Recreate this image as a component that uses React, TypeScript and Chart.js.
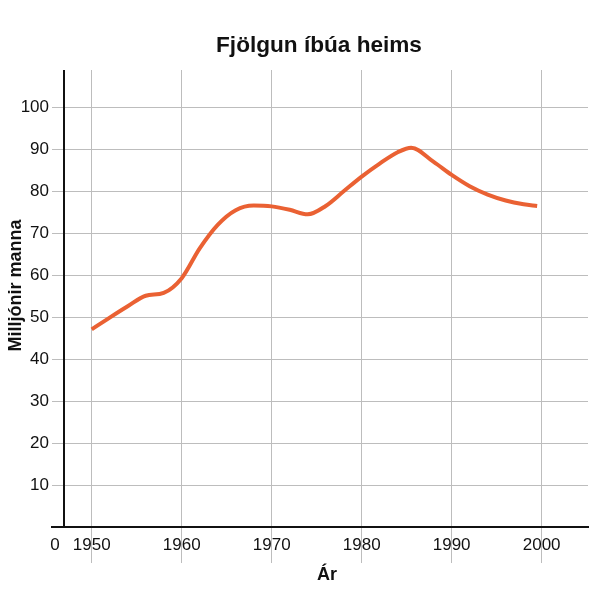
import React, { useRef, useEffect } from 'react';
import { Chart, registerables } from 'chart.js';

Chart.register(...registerables);

const FONT = "'Liberation Sans', Arial, Helvetica, sans-serif";

const chartTitle = 'Fjölgun íbúa heims';
const xTitle = 'Ár';
const yTitle = 'Milljónir manna';
const originLabel = '0';

const years = [1950, 1952, 1954, 1956, 1958, 1960, 1962, 1964, 1966, 1968, 1970, 1972, 1974, 1976, 1978, 1980, 1982, 1984, 1985.5, 1988, 1990, 1992, 1994, 1996, 1998, 1999.5];
const population = [47.1, 49.9, 52.6, 55.1, 55.8, 59.3, 66.4, 72.0, 75.5, 76.6, 76.4, 75.6, 74.5, 76.5, 80.0, 83.5, 86.6, 89.3, 90.4, 87.0, 83.9, 81.2, 79.2, 77.8, 76.9, 76.5];

const xTicks = [1950, 1960, 1970, 1980, 1990, 2000];
const yTicks = [10, 20, 30, 40, 50, 60, 70, 80, 90, 100];

// title, axis lines, axis titles and the origin "0"
const decorations = {
  id: 'decorations',
  afterDraw(chart: Chart) {
    const { ctx, chartArea } = chart;
    const { left, right, top, bottom } = chartArea;
    ctx.save();
    ctx.strokeStyle = '#111';
    ctx.lineWidth = 2;
    ctx.beginPath();
    ctx.moveTo(left, top);
    ctx.lineTo(left, bottom);
    ctx.moveTo(left - 13, bottom);
    ctx.lineTo(right + 1, bottom);
    ctx.stroke();

    ctx.fillStyle = '#111';
    ctx.textAlign = 'center';
    ctx.textBaseline = 'alphabetic';
    ctx.font = `bold 22.6px ${FONT}`;
    ctx.fillText(chartTitle, 319, 52);

    ctx.font = `bold 18px ${FONT}`;
    ctx.fillText(xTitle, (left + right) / 2 + 1, bottom + 53);

    ctx.save();
    ctx.translate(21, (top + bottom) / 2 - 13);
    ctx.rotate(-Math.PI / 2);
    ctx.fillText(yTitle, 0, 0);
    ctx.restore();

    ctx.font = `17px ${FONT}`;
    ctx.textBaseline = 'middle';
    ctx.fillText(originLabel, left - 9, bottom + 18);
    ctx.restore();
  },
};

const App = () => {
  const chartRef = useRef<HTMLCanvasElement>(null);

  useEffect(() => {
    const ctx = chartRef.current?.getContext('2d');
    if (!ctx) return;

    const myChart = new Chart(ctx, {
      type: 'line',
      data: {
        datasets: [
          {
            data: years.map((y, i) => ({ x: y, y: population[i] })),
            borderColor: '#EA6133',
            borderWidth: 4,
            pointRadius: 0,
            cubicInterpolationMode: 'monotone',
            fill: false,
          },
        ],
      },
      options: {
        responsive: true,
        maintainAspectRatio: false,
        animation: false,
        layout: { padding: { top: 70, right: 1, left: 0, bottom: 0 } },
        scales: {
          x: {
            type: 'linear',
            min: 1946.92,
            max: 2005.15,
            afterBuildTicks: (scale: any) => {
              scale.ticks = xTicks.map((v) => ({ value: v }));
            },
            afterFit: (scale: any) => {
              scale.height = 62;
            },
            border: { display: false },
            grid: { color: '#BDBDBD', lineWidth: 1, tickLength: 36 },
            ticks: {
              padding: -28,
              color: '#111',
              font: { family: FONT, size: 17 },
              maxRotation: 0,
              callback: (v: any) => String(v),
            },
          },
          y: {
            min: 0,
            max: 108.9,
            afterBuildTicks: (scale: any) => {
              scale.ticks = yTicks.map((v) => ({ value: v }));
            },
            afterFit: (scale: any) => {
              scale.width = 64;
            },
            border: { display: false },
            grid: { color: '#BDBDBD', lineWidth: 1, tickLength: 12 },
            ticks: {
              padding: 3,
              color: '#111',
              font: { family: FONT, size: 17 },
              callback: (v: any) => String(v),
            },
          },
        },
        plugins: {
          legend: { display: false },
          title: { display: false },
          tooltip: { enabled: false },
        },
      },
      plugins: [decorations],
    });

    return () => {
      myChart.destroy();
    };
  }, []);

  return (
    <div style={{ position: 'absolute', left: 0, top: 0, width: 589, height: 589, background: '#fff' }}>
      <canvas ref={chartRef}></canvas>
    </div>
  );
};

export default App;
